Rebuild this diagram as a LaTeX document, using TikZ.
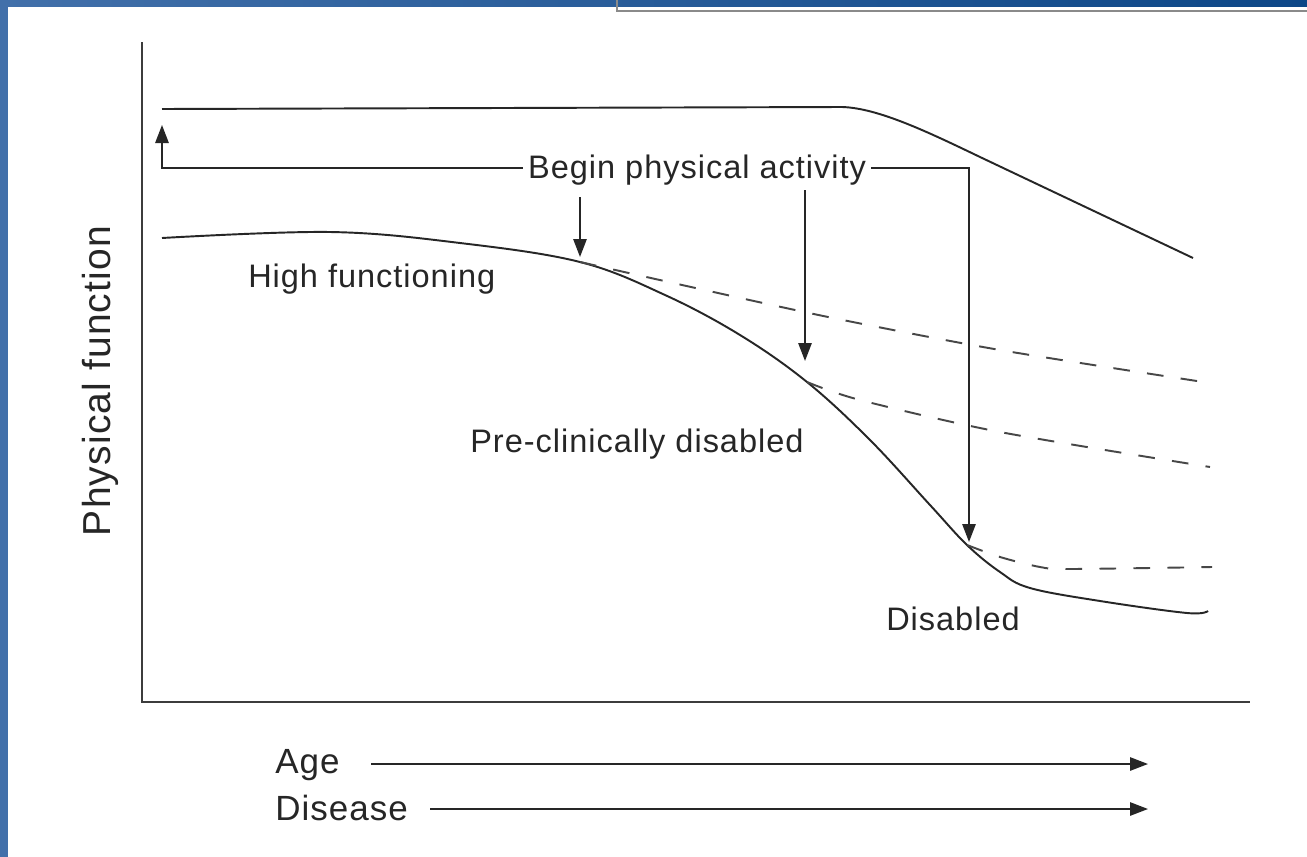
\documentclass[tikz,border=0pt]{standalone}
\usepackage{fontspec}
\setmainfont{Liberation Sans}
\newfontfamily\labfont[LetterSpace=3]{Liberation Sans}
\newfontfamily\axfont[LetterSpace=3]{Liberation Sans}
\usetikzlibrary{arrows.meta}
\definecolor{ink}{HTML}{262626}
\definecolor{barblue}{HTML}{4270AA}
\definecolor{bardark}{HTML}{0D4787}
\definecolor{framegray}{HTML}{8A8A8A}

\begin{document}
\begin{tikzpicture}[x=0.75pt,y=-0.75pt,
  curve/.style={draw=ink,line width=1.45pt},
  dashcurve/.style={curve,draw=ink!85,dash pattern=on 12.5pt off 13pt},
  axisline/.style={draw=ink!90,line width=1.7pt},
  pointer/.style={draw=ink,line width=1.35pt,-{Triangle[length=13.5pt,width=10pt]}},
  lab/.style={text=ink,inner sep=0pt,font=\labfont\fontsize{24.4pt}{29pt}\selectfont},
  axlab/.style={text=ink,inner sep=0pt,font=\labfont\fontsize{26.25pt}{31pt}\selectfont},
  ylab/.style={text=ink,inner sep=0pt,font=\axfont\fontsize{29.25pt}{34pt}\selectfont}
]
% canvas and frame decoration
\fill[white] (0,0) rectangle (1307,857);
\useasboundingbox (0,0) rectangle (1307,857);
\fill[barblue] (0,0) rectangle (8,857);
\shade[left color=barblue,right color=bardark] (0,0) rectangle (1307,6);
\draw[framegray,line width=1.5pt] (617,0) -- (617,11) -- (1307,11);

% axes
\draw[axisline] (142,42) -- (142,702) -- (1250,702);
\node[ylab,rotate=90,anchor=base] (yl) at (110,381) {Physical function};

% upper curve
\draw[curve] (162,109) -- (842,107) .. controls (878,108) and (928,132) .. (980,157) -- (1193,258);

% lower curve
\draw[curve] plot[smooth,tension=0.6] coordinates {
  (162,238) (330,232) (460,243) (580,262) (665,295) (740,335) (807,382)
  (870,440) (930,505) (967,545) (1000,572) (1030,588) (1100,601) (1187,613) (1208,611)};

% intervention trajectories
\draw[dashcurve] plot[smooth,tension=0.5] coordinates {(580,262) (700,289) (833,318) (1000,350) (1210,383)};
\draw[dashcurve] plot[smooth,tension=0.5] coordinates {(807,382) (860,400) (1000,432) (1210,467)};
\draw[dashcurve] plot[smooth,tension=0.5] coordinates {(967,545) (1000,557) (1040,567) (1070,569) (1212,567)};

% labels on the curves
\node[lab,anchor=base west] (hf) at (248,287) {High functioning};
\node[lab,anchor=base west] (pcd) at (470,452) {Pre-clinically disabled};
\node[lab,anchor=base west] (dsb) at (886,630) {Disabled};

% begin physical activity bracket and arrows
\node[lab,anchor=base,inner xsep=4pt,text height=17.4pt,text depth=2.2pt] (bpa) at (697,178) {Begin physical activity};
\coordinate (t0) at (162,125);
\coordinate (t3) at (969,542);
\draw[pointer] (bpa.west) -| (t0);
\draw[pointer] (bpa.east) -| (t3);
\coordinate (s1) at (580,197);
\coordinate (e1) at (580,257);
\coordinate (s2) at (805,190);
\coordinate (e2) at (805,361);
\draw[pointer] (s1) -- (e1);
\draw[pointer] (s2) -- (e2);

% age and disease axes
\node[axlab,anchor=base west] (age) at (275,773) {Age};
\node[axlab,anchor=base west] (dis) at (275,820) {Disease};
\coordinate (ages) at (371,764);
\coordinate (aget) at (1148,764);
\coordinate (diss) at (430,809);
\coordinate (dist) at (1148,809);
\draw[pointer] (ages) -- (aget);
\draw[pointer] (diss) -- (dist);
\end{tikzpicture}
\end{document}
